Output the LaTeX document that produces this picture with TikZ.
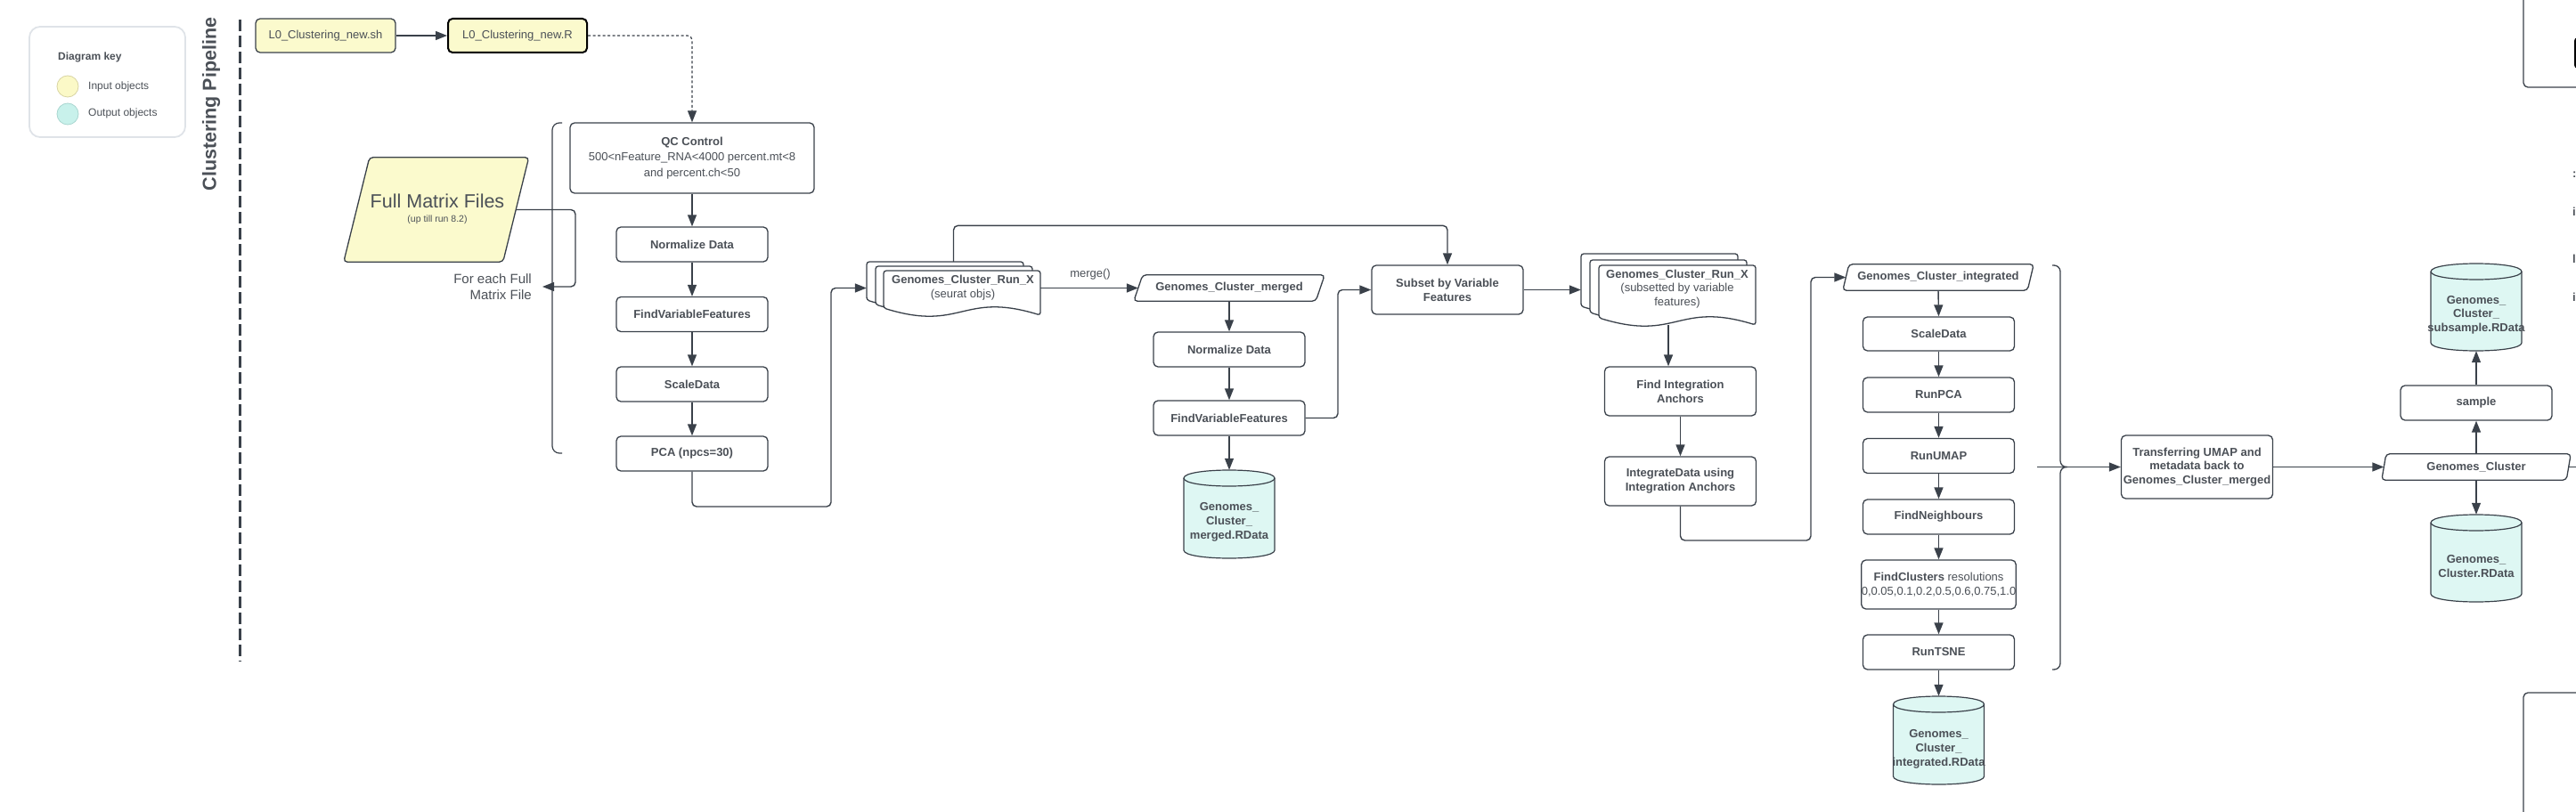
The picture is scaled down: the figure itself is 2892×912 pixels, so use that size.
\documentclass[tikz,border=0pt]{standalone}
\usepackage{fontspec}
\setmainfont{Liberation Sans}
\usetikzlibrary{arrows.meta}
\definecolor{linec}{HTML}{3A414A}
\definecolor{txtc}{HTML}{4B5057}
\definecolor{yellowf}{HTML}{FBFACD}
\definecolor{cyanf}{HTML}{DEF7F3}
\definecolor{legc}{HTML}{DFE3E8}
\definecolor{keyy}{HTML}{FBF9C7}
\definecolor{keyyb}{HTML}{D8D4A3}
\definecolor{keyc}{HTML}{C8F1EB}
\definecolor{keycb}{HTML}{A9D6D0}
\newcommand\CylShape[4]{%
  \pgfmathsetmacro\cyA{#1-#4}\pgfmathsetmacro\cyB{#1+#4}%
  \pgfmathsetmacro\cyT{#2+9}\pgfmathsetmacro\cyBt{#3-9}%
  \pgfmathsetmacro\cyTc{#2+9-12}\pgfmathsetmacro\cyTd{#2+9+12}\pgfmathsetmacro\cyBc{#3-9+12}%
  \draw[cylst] (\cyA,\cyT) -- (\cyA,\cyBt) .. controls (\cyA,\cyBc) and (\cyB,\cyBc) .. (\cyB,\cyBt) -- (\cyB,\cyT) .. controls (\cyB,\cyTc) and (\cyA,\cyTc) .. cycle;
  \draw[cylst, fill=none] (\cyA,\cyT) .. controls (\cyA,\cyTd) and (\cyB,\cyTd) .. (\cyB,\cyT);
}
\newcommand\DocSheet[4]{%
  \pgfmathsetmacro\dsR{#1+#3}\pgfmathsetmacro\dsM{#1+#3/2}\pgfmathsetmacro\dsL{#2+#4}%
  \pgfmathsetmacro\dsCa{#2+#4+27}\pgfmathsetmacro\dsCb{#2+#4-19}\pgfmathsetmacro\dsE{#2+#4+8}%
  \draw[docst] (#1,\dsL) -- (#1,#2) -- (\dsR,#2) -- (\dsR,\dsE) .. controls (\dsM,\dsCb) and (\dsM,\dsCa) .. cycle;
}
\begin{document}
\begin{tikzpicture}[x=1pt,y=-1pt,
  proc/.style={draw=linec, line width=1.3pt, fill=white, rounded corners=5pt, minimum width=170pt, minimum height=39pt, inner sep=0pt, align=center, text=txtc, font=\fontsize{13}{15.5}\selectfont\bfseries},
  lbl/.style={text=txtc, inner sep=0pt, align=center},
  ghost/.style={draw=none, inner sep=0pt, rectangle, text=txtc, align=center},
  conn/.style={draw=linec, line width=1.4pt, rounded corners=5pt, -{Triangle[length=13pt,width=10pt]}},
  wire/.style={draw=linec, line width=1.4pt, rounded corners=5pt},
  fr/.style={font=\fontsize{13}{15.5}\selectfont},
  fb/.style={font=\fontsize{13}{15.5}\selectfont\bfseries},
  cylst/.style={draw=linec, line width=1.2pt, fill=cyanf},
  docst/.style={draw=linec, line width=1.3pt, fill=white, rounded corners=3pt},
  parast/.style={draw=linec, line width=1.3pt, rounded corners=4pt},
]
\useasboundingbox (0,0) rectangle (2892,912);

% ---------- legend ----------
\node[draw=legc, line width=1.8pt, rounded corners=12pt, minimum width=175pt, minimum height=124pt, inner sep=0pt] (legend) at (120.5,92) {};
\node[lbl, anchor=west, font=\fontsize{12}{14}\selectfont\bfseries] (keytitle) at (65,64) {Diagram key};
\node[circle, minimum size=24pt, inner sep=0pt, fill=keyy, draw=keyyb, line width=0.8pt] (keyin) at (76,97) {};
\node[lbl, anchor=west, font=\fontsize{12}{14}\selectfont] (keyint) at (99,97) {Input objects};
\node[circle, minimum size=24pt, inner sep=0pt, fill=keyc, draw=keycb, line width=0.8pt] (keyout) at (76,128) {};
\node[lbl, anchor=west, font=\fontsize{12}{14}\selectfont] (keyoutt) at (99,127) {Output objects};

% ---------- title and separator ----------
\node[lbl, rotate=90, font=\fontsize{21.5}{24}\selectfont\bfseries] (title) at (237,117) {Clustering Pipeline};
\coordinate (dtop) at (269,22);
\coordinate (dbot) at (269,743);
\draw[draw=linec, line width=3pt, dash pattern=on 13pt off 5pt] (dtop) -- (dbot);

% ---------- scripts ----------
\node[proc, fill=yellowf, minimum width=157pt, minimum height=38pt, font=\fontsize{13}{15.5}\selectfont] (sh) at (365.5,40) {L0\_Clustering\_new.sh};
\node[proc, fill=yellowf, draw=black, line width=2pt, minimum width=156pt, minimum height=38pt, font=\fontsize{13}{15.5}\selectfont] (rfile) at (581,40) {L0\_Clustering\_new.R};
\draw[conn] (sh.east) -- (rfile.east -| rfile.west);

% ---------- per-file column ----------
\node[proc, minimum width=274pt, minimum height=79pt, font=\fontsize{13}{17.5}\selectfont] (qc) at (777,177.5) {\textbf{QC Control}\\500<nFeature\_RNA<4000 percent.mt<8\\and percent.ch<50};
\draw[conn, line width=1.2pt, dash pattern=on 3pt off 2.5pt] (rfile.east) -| (qc.north);
\node[proc] (norm1) at (777,274.5) {Normalize Data};
\node[proc] (fvf1) at (777,353) {FindVariableFeatures};
\node[proc] (sd1) at (777,431.5) {ScaleData};
\node[proc] (pca) at (777,509.5) {PCA (npcs=30)};
\draw[conn] (qc.south) -- (norm1.north);
\draw[conn] (norm1.south) -- (fvf1.north);
\draw[conn] (fvf1.south) -- (sd1.north);
\draw[conn] (sd1.south) -- (pca.north);

% full matrix files
\node[ghost, minimum width=178.5pt, minimum height=117pt] (fmf) at (489.75,235.5) {};
\draw[parast, fill=yellowf] ([xshift=-14.5pt]fmf.south west) -- ([xshift=14.5pt]fmf.north west) -- ([xshift=14.5pt]fmf.north east) -- ([xshift=-14.5pt]fmf.south east) -- cycle;
\node[lbl, font=\fontsize{21.5}{24}\selectfont] (fmft) at (491,226) {Full Matrix Files};
\node[lbl, font=\fontsize{10.5}{12}\selectfont] (fmfs) at (491,247) {(up till run 8.2)};
\node[lbl, align=right, anchor=east, font=\fontsize{15}{18}\selectfont] (foreach) at (597,322) {For each Full\\Matrix File};
\draw[conn] (fmf.east) -- (646,235.5) |- ([xshift=12pt]foreach.east);
\coordinate (brt) at (631,138);
\coordinate (brb) at (631,509);
\draw[wire, line width=1.2pt, rounded corners=8pt] (brt) -- (620,138) -- (620,509) -- (brb);

% ---------- Run_X stack ----------
\DocSheet{973}{294}{176}{43}
\DocSheet{983}{299}{176}{43}
\DocSheet{992}{304}{176}{42}
\node[ghost, minimum width=195pt, minimum height=59pt] (runx) at (1070.5,323.5) {};
\node[lbl, font=\fontsize{13}{16}\selectfont] (runxt) at (1081,323) {\textbf{Genomes\_Cluster\_Run\_X}\\(seurat objs)};
\draw[conn] (pca.south) |- (933,569) |- (runx.west);

% merged
\node[ghost, fb, minimum width=204pt, minimum height=29pt] (merged) at (1380,323.5) {Genomes\_Cluster\_merged};
\draw[parast] ([xshift=-5pt]merged.south west) -- ([xshift=5pt]merged.north west) -- ([xshift=5pt]merged.north east) -- ([xshift=-5pt]merged.south east) -- cycle;
\draw[conn] (runx.east) -- (merged.west);
\node[lbl, fr] (mergelbl) at (1224,308) {merge()};
\node[proc] (norm2) at (1380,392.5) {Normalize Data};
\node[proc] (fvf2) at (1380,469.5) {FindVariableFeatures};
\draw[conn] (merged.south) -- (norm2.north);
\draw[conn] (norm2.south) -- (fvf2.north);
\CylShape{1380}{528}{627}{51}
\node[ghost, minimum width=102pt, minimum height=99pt] (cylm) at (1380,577.5) {};
\node[lbl, font=\fontsize{13}{16}\selectfont\bfseries] (cylmt) at (1380,586) {Genomes\_\\Cluster\_\\merged.RData};
\draw[conn] (fvf2.south) -- (cylm.north);

% subset
\node[proc, minimum height=55pt, font=\fontsize{13}{16}\selectfont\bfseries] (subset) at (1625,325.5) {Subset by Variable\\Features};
\draw[conn] (runx.north) |- ([yshift=44pt]subset.north) -- (subset.north);
\draw[conn] (fvf2.east) -| (1502,325.5) -- (subset.west);

% ---------- Run_X subsetted stack ----------
\DocSheet{1775}{285}{176}{59}
\DocSheet{1785}{292}{176}{59}
\DocSheet{1795}{298}{176}{59}
\node[ghost, minimum width=196pt, minimum height=81pt] (runx2) at (1873,325.5) {};
\node[lbl, font=\fontsize{13}{15.5}\selectfont] (runx2t) at (1883,324.5) {\textbf{Genomes\_Cluster\_Run\_X}\\(subsetted by variable\\features)};
\draw[conn] (subset.east) -- (runx2.west);
\coordinate (runx2b) at (1873,365);
\node[proc, minimum height=55pt, font=\fontsize{13}{16}\selectfont\bfseries] (fia) at (1886.5,439.5) {Find Integration\\Anchors};
\node[proc, minimum height=55pt, font=\fontsize{13}{16}\selectfont\bfseries] (ida) at (1886.5,540.5) {IntegrateData using\\Integration Anchors};
\draw[conn] (runx2b) -- (runx2b |- fia.north);
\draw[conn] (fia.south) -- (ida.north);

% integrated
\node[ghost, fb, minimum width=207pt, minimum height=29pt] (integ) at (2176,311.5) {Genomes\_Cluster\_integrated};
\draw[parast] ([xshift=-3.5pt]integ.south west) -- ([xshift=3.5pt]integ.north west) -- ([xshift=3.5pt]integ.north east) -- ([xshift=-3.5pt]integ.south east) -- cycle;
\draw[conn] (ida.south) |- (2033,607) |- (integ.west);
\node[proc, minimum height=38pt] (sd2) at (2176.5,375) {ScaleData};
\node[proc] (rpca) at (2176.5,443.5) {RunPCA};
\node[proc] (rumap) at (2176.5,512) {RunUMAP};
\node[proc] (fneigh) at (2176.5,580.5) {FindNeighbours};
\node[proc, minimum height=55pt, font=\fontsize{13}{16}\selectfont] (fclus) at (2176.5,656.5) {\textbf{FindClusters} resolutions\\0,0.05,0.1,0.2,0.5,0.6,0.75,1.0};
\node[proc] (rtsne) at (2176.5,732.5) {RunTSNE};
\draw[conn] (integ.south) -- (sd2.north);
\draw[conn] (sd2.south) -- (rpca.north);
\draw[conn] (rpca.south) -- (rumap.north);
\draw[conn] (rumap.south) -- (fneigh.north);
\draw[conn] (fneigh.south) -- (fclus.north);
\draw[conn] (fclus.south) -- (rtsne.north);
\CylShape{2176.5}{782}{881}{51}
\node[ghost, minimum width=102pt, minimum height=99pt] (cyli) at (2176.5,831.5) {};
\node[lbl, font=\fontsize{13}{16}\selectfont\bfseries] (cylit) at (2176.5,841) {Genomes\_\\Cluster\_\\integrated.RData};
\draw[conn] (rtsne.south) -- (cyli.north);

% brace
\draw[wire, line width=1.3pt, rounded corners=7pt] (2304,298) -- (2313,298) -- (2313,524.5) -- (2321,524.5);
\draw[wire, line width=1.3pt, rounded corners=7pt] (2321,524.5) -- (2313,524.5) -- (2313,752) -- (2304,752);

% transfer
\node[proc, minimum height=71pt, font=\fontsize{13}{15.5}\selectfont\bfseries] (tr) at (2466.5,524.5) {Transferring UMAP and\\metadata back to\\Genomes\_Cluster\_merged};
\coordinate (bracein) at (2287,524.5);
\draw[conn] (bracein) -- (tr.west);

% Genomes_Cluster
\node[ghost, fb, minimum width=207pt, minimum height=29pt] (gc) at (2780,524.5) {Genomes\_Cluster};
\draw[parast] ([xshift=-2.5pt]gc.south west) -- ([xshift=2.5pt]gc.north west) -- ([xshift=2.5pt]gc.north east) -- ([xshift=-2.5pt]gc.south east) -- cycle;
\draw[conn] (tr.east) -- (gc.west);
\coordinate (gcout) at (2900,524.5);
\draw[wire] (gc.east) -- (gcout);
\node[proc] (sample) at (2780,452.5) {sample};
\CylShape{2780}{296}{394}{51}
\node[ghost, minimum width=102pt, minimum height=98pt] (cylsub) at (2780,345) {};
\node[lbl, font=\fontsize{13}{15.5}\selectfont\bfseries] (cylsubt) at (2780,353.5) {Genomes\_\\Cluster\_\\subsample.RData};
\CylShape{2780}{578}{676}{51}
\node[ghost, minimum width=102pt, minimum height=98pt] (cylgc) at (2780,627) {};
\node[lbl, font=\fontsize{13}{16}\selectfont\bfseries] (cylgct) at (2780,636) {Genomes\_\\Cluster.RData};
\draw[conn] (gc.north) -- (sample.south);
\draw[conn] (sample.north) -- (cylsub.south);
\draw[conn] (gc.south) -- (cylgc.north);

% ---------- cut-off shapes at right edge ----------
\draw[draw=linec, line width=1.3pt, rounded corners=5pt] (2910,-10) -- (2833,-10) -- (2833,98) -- (2910,98);
\draw[draw=black, line width=2pt, rounded corners=3pt] (2910,43) -- (2891,43) -- (2891,76) -- (2910,76);
\draw[draw=linec, line width=1.3pt, rounded corners=5pt] (2910,778) -- (2833,778) -- (2833,930);
\node[lbl, fb, anchor=west] (frag1) at (2888,196) {:};
\node[lbl, fb, anchor=west] (frag2) at (2888,238) {i};
\node[lbl, fb, anchor=west] (frag3) at (2888,291) {l};
\node[lbl, fb, anchor=west] (frag4) at (2888,334) {i};
\end{tikzpicture}
\end{document}
